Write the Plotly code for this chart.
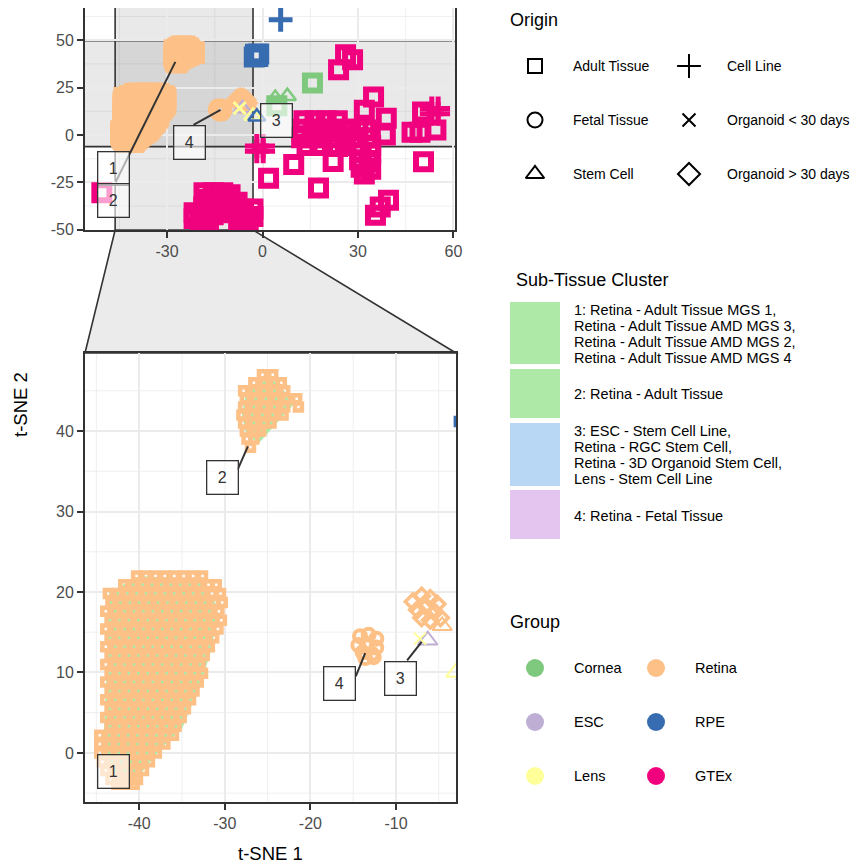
import plotly.graph_objects as go

# The page body keeps the browser's default 8px margin, so the figure is made 8px
# smaller and every reference pixel position is shifted by that offset.
PAGE_W, PAGE_H = 859, 867
OFF = 8
W, H = PAGE_W - OFF, PAGE_H - OFF
FONT = "Liberation Sans, Arial, Helvetica, sans-serif"

# ---------------- categories / colours ----------------
GROUPS = ["Cornea", "ESC", "Lens", "Retina", "RPE", "GTEx"]
GROUP_COLORS = ["#7FC97F", "#BEAED4", "#FFFF99", "#FDC086", "#386CB0", "#F0027F"]
ORIGINS = ["Adult Tissue", "Fetal Tissue", "Stem Cell", "Cell Line",
           "Organoid < 30 days", "Organoid > 30 days"]
CLUSTER_TEXT = [
    ["1: Retina - Adult Tissue MGS 1,", "Retina - Adult Tissue AMD MGS 3,",
     "Retina - Adult Tissue AMD MGS 2,", "Retina - Adult Tissue AMD MGS 4"],
    ["2: Retina - Adult Tissue"],
    ["3: ESC - Stem Cell Line,", "Retina - RGC Stem Cell,",
     "Retina - 3D Organoid Stem Cell,", "Lens - Stem Cell Line"],
    ["4: Retina - Fetal Tissue"],
]
CLUSTER_COLORS = ["#AEE9A8", "#AEE9A8", "#B8D7F5", "#E4C5EF"]

# ---------------- data (t-SNE coordinates) ----------------
# Retina adult tissue, cluster 1 (dense cloud), rows of (t-SNE 2, [t-SNE 1 ...])
RETINA_ADULT_C1_ROWS = [
    (22.0, [-40.3, -39.2, -38.1, -37.0, -35.9, -34.8, -33.7, -32.6]),
    (20.9, [-41.8, -40.7, -39.6, -38.5, -37.4, -36.3, -35.2, -34.1, -33.0, -31.9, -31.0]),
    (19.8, [-43.6, -42.5, -41.4, -40.3, -39.2, -38.1, -37.0, -35.9, -34.8, -33.7, -32.6, -31.5, -30.5]),
    (18.7, [-43.3, -42.2, -41.1, -40.0, -38.9, -37.8, -36.7, -35.6, -34.5, -33.4, -32.3, -31.2, -30.3]),
    (17.6, [-43.9, -42.8, -41.7, -40.6, -39.5, -38.4, -37.3, -36.2, -35.1, -34.0, -32.9, -31.8, -30.7]),
    (16.5, [-43.4, -42.3, -41.2, -40.1, -39.0, -37.9, -36.8, -35.7, -34.6, -33.5, -32.4, -31.3, -30.4]),
    (15.4, [-43.9, -42.8, -41.7, -40.6, -39.5, -38.4, -37.3, -36.2, -35.1, -34.0, -32.9, -31.8, -30.8]),
    (14.3, [-43.4, -42.3, -41.2, -40.1, -39.0, -37.9, -36.8, -35.7, -34.6, -33.5, -32.4, -31.3]),
    (13.2, [-43.9, -42.8, -41.7, -40.6, -39.5, -38.4, -37.3, -36.2, -35.1, -34.0, -32.9, -31.8]),
    (12.1, [-43.4, -42.3, -41.2, -40.1, -39.0, -37.9, -36.8, -35.7, -34.6, -33.5, -32.4]),
    (11.0, [-43.9, -42.8, -41.7, -40.6, -39.5, -38.4, -37.3, -36.2, -35.1, -34.0, -32.9]),
    (9.9, [-43.4, -42.3, -41.2, -40.1, -39.0, -37.9, -36.8, -35.7, -34.6, -33.5, -32.6]),
    (8.8, [-43.9, -42.8, -41.7, -40.6, -39.5, -38.4, -37.3, -36.2, -35.1, -34.0, -33.1]),
    (7.7, [-43.4, -42.3, -41.2, -40.1, -39.0, -37.9, -36.8, -35.7, -34.6, -33.6]),
    (6.6, [-43.9, -42.8, -41.7, -40.6, -39.5, -38.4, -37.3, -36.2, -35.1, -34.0]),
    (5.5, [-43.4, -42.3, -41.2, -40.1, -39.0, -37.9, -36.8, -35.7, -34.6]),
    (4.4, [-43.9, -42.8, -41.7, -40.6, -39.5, -38.4, -37.3, -36.2, -35.1]),
    (3.3, [-43.4, -42.3, -41.2, -40.1, -39.0, -37.9, -36.8, -35.7]),
    (2.2, [-44.6, -43.5, -42.4, -41.3, -40.2, -39.1, -38.0, -36.9, -36.0]),
    (1.1, [-44.6, -43.5, -42.4, -41.3, -40.2, -39.1, -38.0, -37.0]),
    (0.0, [-44.6, -43.5, -42.4, -41.3, -40.2, -39.1, -38.0]),
    (-1.1, [-44.3, -43.2, -42.1, -41.0, -39.9, -38.8]),
    (-2.2, [-43.9, -42.8, -41.7, -40.6, -39.5]),
    (-3.3, [-43.3, -42.2, -41.1, -40.2]),
    (-3.9, [-42.6, -41.5, -40.6]),
]
# Retina adult tissue, cluster 2
RETINA_ADULT_C2_ROWS = [
    (47.0, [-25.6, -24.4]),
    (46.0, [-26.6, -25.4, -24.2, -23.4]),
    (45.0, [-27.8, -26.6, -25.4, -24.2, -23.0]),
    (44.0, [-27.6, -26.4, -25.2, -24.0, -22.8, -21.6]),
    (43.0, [-27.8, -26.6, -25.4, -24.2, -23.0, -21.4]),
    (42.0, [-28.0, -26.8, -25.6, -24.4, -23.2]),
    (41.0, [-27.8, -26.6, -25.4, -24.6]),
    (40.0, [-27.6, -26.4, -25.8]),
    (39.0, [-27.4, -26.6]),
    (38.0, [-27.0]),
]
RETINA_FETAL_X = [-14.2, -13.2, -12.3, -14.4, -13.4, -12.3, -13.9, -12.8, -13.6, -12.6]
RETINA_FETAL_Y = [14.5, 14.7, 14.2, 13.4, 13.5, 13.1, 12.5, 12.3, 11.8, 11.9]
RETINA_ORG30_X = [-8.0, -7.0, -6.0, -5.2, -7.5, -6.5, -5.5, -4.8, -7.0, -6.0]
RETINA_ORG30_Y = [18.8, 19.5, 19.2, 18.5, 17.8, 18.2, 17.5, 16.8, 16.8, 16.5]
RETINA_STEM_X = [-4.6]
RETINA_STEM_Y = [15.8]
ESC_STEM_X = [-6.3]
ESC_STEM_Y = [14.0]
LENS_ORG_X = [-7.2]
LENS_ORG_Y = [14.2]
LENS_STEM_X = [-3.0]
LENS_STEM_Y = [10.0]
RPE_ADULT_X = [-2.6, -1.9, -1.2, -2.2, -1.5]
RPE_ADULT_Y = [41.2, 42.0, 42.8, 42.6, 41.4]
RPE_CELL_X = [5.7]
RPE_CELL_Y = [60.8]
RPE_STEM_X = [-1.8]
RPE_STEM_Y = [9.6]
CORNEA_ADULT_X = [15.7, 4.5]
CORNEA_ADULT_Y = [27.5, 15.5]
CORNEA_STEM_X = [4.0, 7.8]
CORNEA_STEM_Y = [19.5, 20.5]
GTEX_ADULT_X = [26.1, 28.3, 23.9, 34.9, 32.0, 38.9, 38.6, 32.4, 50.3, 47.0, 49.5, 54.5,
                50.6, 9.8, 1.9, 17.6, 22.2, 23.6, 39.6, 35.5, 37.0, -50.5,
                13.0, 16.5, 20.0, 23.5,
                12.5, 16.0, 19.5, 23.0, 26.5, 30.0,
                12.3, 15.5, 19.0, 22.5, 26.0, 29.5, 33.0,
                14.0, 18.0, 22.0, 26.0, 30.0, 34.0,
                31.0, 34.0, 30.5, 33.5, 31.0, 34.0, 32.0,
                -18.4, -15.5, -12.5, -10.2, -17.0, -14.0, -11.0, -8.0,
                -21.5, -21.5, -18.5, -18.5, -15.5, -15.5, -12.0, -12.0, -9.0, -9.0,
                -6.0, -6.0, -3.0, -3.0, -17.0, -19.5, -7.5, -4.5]
GTEX_ADULT_Y = [42.3, 39.7, 34.4, 20.1, 13.0, 8.9, 0.0, 2.6, 12.2, 1.5, 1.5, 2.6,
                -14.1, -15.5, -22.8, -28.0, -14.0, -6.1, -34.4, -42.3, -38.0, -30.5,
                7.5, 7.5, 7.5, 7.5,
                3.0, 3.0, 3.0, 3.0, 3.0, 3.0,
                -1.5, -1.5, -1.5, -1.5, -1.5, -1.5, -1.5,
                -5.5, -5.5, -5.5, -5.5, -5.5, -5.5,
                -9.0, -9.5, -13.0, -14.0, -17.0, -18.0, -20.5,
                -30.5, -30.5, -30.5, -31.5, -34.0, -34.0, -34.0, -35.5,
                -41.0, -44.0, -38.0, -43.0, -38.0, -42.0, -38.0, -40.5, -38.5, -41.0,
                -39.0, -43.0, -39.0, -43.0, -44.8, -44.8, -44.5, -44.8]
GTEX_CELL_X = [-1.8, 0.2, -1.8, 0.2, 53.2, 55.2, 53.2, 55.2]
GTEX_CELL_Y = [-5.8, -5.8, -8.6, -8.6, 11.2, 11.2, 14.0, 14.0]

# sub-tissue cluster hulls (filled areas drawn under the points)
HULL1_X = [-43.5, -40.0, -32.5, -30.8, -31.5, -33.0, -35.0, -37.5, -40.5, -43.0, -44.2, -43.8]
HULL1_Y = [20.0, 22.0, 21.5, 18.0, 13.0, 8.0, 3.0, 0.5, -3.5, -3.0, 1.0, 10.0]
HULL2_X = [-27.5, -25.0, -23.5, -21.8, -23.5, -26.0, -27.5, -28.0]
HULL2_Y = [45.0, 47.0, 45.5, 43.5, 41.5, 38.5, 39.5, 42.0]

# cluster labels
TOP_LABELS = ["1", "2", "3", "4"]
TOP_LABEL_X = [-46.7, -46.7, 4.4, -22.9]
TOP_LABEL_Y = [-17.6, -34.7, 7.6, -4.1]
TOP_LEADERS = [((-46.2, -24.9), (-27.4, 38.6)), ((-21.7, 5.3), (-13.2, 13.2))]
BOT_LABELS = ["1", "2", "3", "4"]
BOT_LABEL_X = [-43.0, -30.3, -9.45, -16.6]
BOT_LABEL_Y = [-2.3, 34.2, 9.3, 8.6]
BOT_LEADERS = [((-28.5, 35.2), (-27.3, 38.1)), ((-14.7, 9.5), (-13.6, 12.4)),
               ((-8.7, 11.5), (-7.0, 13.8))]

# axes
TOP_XRANGE = [-55.8, 60.5]
TOP_YRANGE = [-50.1, 67.0]
ZOOM_XRANGE = [-46.33, -2.99]
ZOOM_YRANGE = [-6.1, 49.7]
TOP_XTICKS = [-30, 0, 30, 60]
TOP_YTICKS = [-50, -25, 0, 25, 50]
TOP_XMINOR = [-45, -15, 15, 45]
TOP_YMINOR = [-37.5, -12.5, 12.5, 37.5, 62.5]
BOT_XTICKS = [-40, -30, -20, -10]
BOT_YTICKS = [0, 10, 20, 30, 40]
BOT_XMINOR = [-45, -35, -25, -15, -5]
BOT_YMINOR = [-5, 5, 15, 25, 35, 45]


def rows_to_xy(rows):
    xs, ys = [], []
    for y, xl in rows:
        for x in xl:
            xs.append(x)
            ys.append(y)
    return xs, ys


ra_x1, ra_y1 = rows_to_xy(RETINA_ADULT_C1_ROWS)
ra_x2, ra_y2 = rows_to_xy(RETINA_ADULT_C2_ROWS)

SERIES = [
    ("Retina", "Adult Tissue", ra_x1 + ra_x2, ra_y1 + ra_y2),
    ("Retina", "Fetal Tissue", RETINA_FETAL_X, RETINA_FETAL_Y),
    ("Retina", "Organoid > 30 days", RETINA_ORG30_X, RETINA_ORG30_Y),
    ("Retina", "Stem Cell", RETINA_STEM_X, RETINA_STEM_Y),
    ("ESC", "Stem Cell", ESC_STEM_X, ESC_STEM_Y),
    ("Lens", "Organoid < 30 days", LENS_ORG_X, LENS_ORG_Y),
    ("Lens", "Stem Cell", LENS_STEM_X, LENS_STEM_Y),
    ("RPE", "Adult Tissue", RPE_ADULT_X, RPE_ADULT_Y),
    ("RPE", "Cell Line", RPE_CELL_X, RPE_CELL_Y),
    ("RPE", "Stem Cell", RPE_STEM_X, RPE_STEM_Y),
    ("Cornea", "Adult Tissue", CORNEA_ADULT_X, CORNEA_ADULT_Y),
    ("Cornea", "Stem Cell", CORNEA_STEM_X, CORNEA_STEM_Y),
    ("GTEx", "Adult Tissue", GTEX_ADULT_X, GTEX_ADULT_Y),
    ("GTEx", "Cell Line", GTEX_CELL_X, GTEX_CELL_Y),
]

SYMBOLS = {"Adult Tissue": "square-open", "Fetal Tissue": "circle-open",
           "Stem Cell": "triangle-up-open", "Cell Line": "cross-thin-open",
           "Organoid < 30 days": "x-thin-open", "Organoid > 30 days": "diamond-open"}
TOP_SIZE = {"Adult Tissue": (15, 6), "Fetal Tissue": (14, 4), "Stem Cell": (15, 2.5),
            "Cell Line": (17, 5), "Organoid < 30 days": (12, 3), "Organoid > 30 days": (13, 4)}
BOT_SIZE = {"Adult Tissue": (7, 4.5), "Fetal Tissue": (12, 4), "Stem Cell": (17, 2),
            "Cell Line": (14, 2), "Organoid < 30 days": (12, 2), "Organoid > 30 days": (12, 3.5)}
COLOR = dict(zip(GROUPS, GROUP_COLORS))

fig = go.Figure()

# hull fills
for hx, hy, col in [(HULL1_X, HULL1_Y, CLUSTER_COLORS[0]), (HULL2_X, HULL2_Y, CLUSTER_COLORS[1])]:
    for xa, ya in [("x", "y"), ("x2", "y2")]:
        fig.add_trace(go.Scatter(x=hx + hx[:1], y=hy + hy[:1], mode="lines", fill="toself",
                                 fillcolor=col, line=dict(width=0), xaxis=xa, yaxis=ya,
                                 hoverinfo="skip", showlegend=False))

for grp, org, xs, ys in SERIES:
    for xa, ya, sizes in [("x", "y", TOP_SIZE), ("x2", "y2", BOT_SIZE)]:
        s, lw = sizes[org]
        fig.add_trace(go.Scatter(
            x=xs, y=ys, mode="markers", xaxis=xa, yaxis=ya, showlegend=False,
            marker=dict(symbol=SYMBOLS[org], size=s, color=COLOR[grp],
                        line=dict(width=lw, color=COLOR[grp])),
            hovertemplate=grp + " / " + org + "<extra></extra>"))

# ---------------- legend markers on a page-pixel overlay axis ----------------
LEG_ORIGIN_POS = [(535, 66), (535, 120), (535, 174), (689, 66), (689, 120), (689, 174)]
LEG_ORIGIN_SIZE = [14, 15, 16, 17, 13, 17]
for (px, py), org, sz in zip(LEG_ORIGIN_POS, ORIGINS, LEG_ORIGIN_SIZE):
    fig.add_trace(go.Scatter(x=[px], y=[py], mode="markers", xaxis="x3", yaxis="y3",
                             showlegend=False, hoverinfo="skip", cliponaxis=False,
                             marker=dict(symbol=SYMBOLS[org], size=sz, color="black",
                                         line=dict(width=2, color="black"))))
LEG_GROUP_POS = [(535, 668), (535, 722), (535, 776), (656, 668), (656, 722), (656, 776)]
for (px, py), col in zip(LEG_GROUP_POS, GROUP_COLORS):
    fig.add_trace(go.Scatter(x=[px], y=[py], mode="markers", xaxis="x3", yaxis="y3",
                             showlegend=False, hoverinfo="skip", cliponaxis=False,
                             marker=dict(symbol="circle", size=18, color=col, line=dict(width=0))))


# ---------------- layout ----------------
def px_x(p):
    return (p - OFF) / W


def px_y(p):
    return 1 - (p - OFF) / H


def dom_x(p0, p1):
    return [px_x(p0), px_x(p1)]


def dom_y(p0, p1):
    return [px_y(p1), px_y(p0)]


TOP_DX, TOP_DY = dom_x(85, 455), dom_y(8, 230)
BOT_DX, BOT_DY = dom_x(85, 456), dom_y(353, 802)

axis_common = dict(showline=True, mirror=True, linecolor="#333333", linewidth=1.8,
                   ticks="outside", ticklen=6, tickwidth=2, tickcolor="#333333",
                   tickfont=dict(family=FONT, size=16, color="#4d4d4d"),
                   showgrid=True, gridcolor="#ebebeb", gridwidth=1.6, zeroline=False,
                   tickmode="array", fixedrange=True, automargin=False)


def labels(vals):
    return [str(v) for v in vals]


fig.update_layout(
    width=W, height=H, margin=dict(l=0, r=0, t=0, b=0, autoexpand=False),
    paper_bgcolor="white", plot_bgcolor="rgba(0,0,0,0)", showlegend=False,
    xaxis=dict(domain=TOP_DX, range=TOP_XRANGE, anchor="y", tickvals=TOP_XTICKS,
               ticktext=labels(TOP_XTICKS), **axis_common),
    yaxis=dict(domain=TOP_DY, range=TOP_YRANGE, anchor="x", tickvals=TOP_YTICKS,
               ticktext=labels(TOP_YTICKS), **axis_common),
    xaxis2=dict(domain=BOT_DX, range=ZOOM_XRANGE, anchor="y2", tickvals=BOT_XTICKS,
                ticktext=labels(BOT_XTICKS), **axis_common),
    yaxis2=dict(domain=BOT_DY, range=ZOOM_YRANGE, anchor="x2", tickvals=BOT_YTICKS,
                ticktext=labels(BOT_YTICKS), **axis_common),
    xaxis3=dict(domain=[0, 1], range=[OFF, PAGE_W], anchor="y3", visible=False,
                fixedrange=True, automargin=False),
    yaxis3=dict(domain=[0, 1], range=[PAGE_H, OFF], anchor="x3", visible=False,
                fixedrange=True, automargin=False),
)

shapes = []
# minor grid lines
for xr, yr, xv_list, yv_list, in [("x", "y", TOP_XMINOR, TOP_YMINOR), ("x2", "y2", BOT_XMINOR, BOT_YMINOR)]:
    for xv in xv_list:
        shapes.append(dict(type="line", xref=xr, yref=yr + " domain", x0=xv, x1=xv, y0=0, y1=1,
                           line=dict(color="#ebebeb", width=0.8), layer="below"))
    for yv in yv_list:
        shapes.append(dict(type="line", xref=xr + " domain", yref=yr, x0=0, x1=1, y0=yv, y1=yv,
                           line=dict(color="#ebebeb", width=0.8), layer="below"))

band_fill = "rgba(110,110,110,0.15)"
# zoom bands on the overview panel
shapes.append(dict(type="rect", xref="x", yref="y", x0=ZOOM_XRANGE[0], x1=ZOOM_XRANGE[1],
                   y0=TOP_YRANGE[0], y1=TOP_YRANGE[1], fillcolor=band_fill,
                   line=dict(width=0), layer="below"))
shapes.append(dict(type="rect", xref="x", yref="y", x0=TOP_XRANGE[0], x1=TOP_XRANGE[1],
                   y0=ZOOM_YRANGE[0], y1=ZOOM_YRANGE[1], fillcolor=band_fill,
                   line=dict(width=0), layer="below"))
for xv in ZOOM_XRANGE:
    shapes.append(dict(type="line", xref="x", yref="y", x0=xv, x1=xv, y0=TOP_YRANGE[0],
                       y1=TOP_YRANGE[1], line=dict(color="#333333", width=1.6), layer="below"))
for yv in ZOOM_YRANGE:
    shapes.append(dict(type="line", xref="x", yref="y", x0=TOP_XRANGE[0], x1=TOP_XRANGE[1],
                       y0=yv, y1=yv, line=dict(color="#333333", width=1.6), layer="below"))


# connector trapezoid (paper coordinates computed from the axis mapping)
def top_x_paper(x):
    return TOP_DX[0] + (x - TOP_XRANGE[0]) / (TOP_XRANGE[1] - TOP_XRANGE[0]) * (TOP_DX[1] - TOP_DX[0])


ax0, ax1 = top_x_paper(ZOOM_XRANGE[0]), top_x_paper(ZOOM_XRANGE[1])
yt, yb = TOP_DY[0], BOT_DY[1]
path = f"M {ax0},{yt} L {ax1},{yt} L {BOT_DX[1]},{yb} L {BOT_DX[0]},{yb} Z"
shapes.append(dict(type="path", xref="paper", yref="paper", path=path, fillcolor="#ebebeb",
                   line=dict(color="#333333", width=1.6), layer="below"))

# leader lines
for (p0, p1) in TOP_LEADERS:
    shapes.append(dict(type="line", xref="x", yref="y", x0=p0[0], y0=p0[1], x1=p1[0], y1=p1[1],
                       line=dict(color="#333333", width=2)))
for (p0, p1) in BOT_LEADERS:
    shapes.append(dict(type="line", xref="x2", yref="y2", x0=p0[0], y0=p0[1], x1=p1[0], y1=p1[1],
                       line=dict(color="#333333", width=2)))

# sub-tissue legend keys
CLUSTER_KEY_Y = [(302, 364), (369, 418), (423, 486), (490, 539)]
for (y0, y1), col in zip(CLUSTER_KEY_Y, CLUSTER_COLORS):
    shapes.append(dict(type="rect", xref="paper", yref="paper", x0=px_x(510), x1=px_x(560),
                       y0=px_y(y1), y1=px_y(y0), fillcolor=col, line=dict(width=0)))

fig.update_layout(shapes=shapes)

ann = []


def txt(text, px, py, size, color="black", xanchor="left", angle=0):
    ann.append(dict(text=text, x=px_x(px), y=px_y(py), xref="paper", yref="paper",
                    showarrow=False, xanchor=xanchor, yanchor="middle", textangle=angle,
                    font=dict(family=FONT, size=size, color=color)))


# cluster label boxes
for t, x, y in zip(TOP_LABELS, TOP_LABEL_X, TOP_LABEL_Y):
    ann.append(dict(text=t, x=x, y=y, xref="x", yref="y", showarrow=False, width=30, height=32,
                    borderpad=0, bordercolor="#333333", borderwidth=1.3,
                    bgcolor="rgba(255,255,255,0.62)", font=dict(family=FONT, size=16, color="#333333")))
for t, x, y in zip(BOT_LABELS, BOT_LABEL_X, BOT_LABEL_Y):
    ann.append(dict(text=t, x=x, y=y, xref="x2", yref="y2", showarrow=False, width=30, height=32,
                    borderpad=0, bordercolor="#333333", borderwidth=1.3,
                    bgcolor="rgba(255,255,255,0.62)", font=dict(family=FONT, size=16, color="#333333")))

# axis titles
txt("t-SNE 1", 270, 853, 18.5, xanchor="center")
txt("t-SNE 2", 20, 405, 18.5, xanchor="center", angle=-90)

# legends
txt("Origin", 508, 20, 18)
for (px, py), org in zip(LEG_ORIGIN_POS, ORIGINS):
    txt(org, px + 36, py, 14)

txt("Sub-Tissue Cluster", 514, 280, 18)
CLUSTER_LINE_Y = [[310, 326, 342, 358], [394], [431, 447, 463, 479], [516]]
for lines, ys in zip(CLUSTER_TEXT, CLUSTER_LINE_Y):
    for line, py in zip(lines, ys):
        txt(line, 572, py, 14.5)

txt("Group", 508, 622, 18)
for (px, py), g in zip(LEG_GROUP_POS, GROUPS):
    txt(g, px + 37, py, 14.5)

fig.update_layout(annotations=ann)

fig.write_html("out.html")
